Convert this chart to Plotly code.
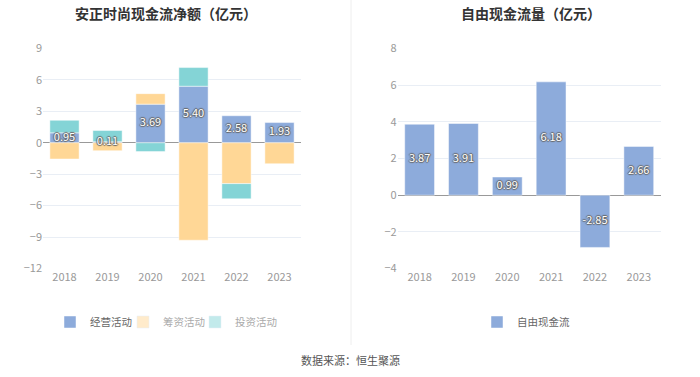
import plotly.graph_objects as go

years = ["2018", "2019", "2020", "2021", "2022", "2023"]
operating = [0.95, 0.11, 3.69, 5.40, 2.58, 1.93]
financing = [-1.55, -0.75, 1.00, -9.30, -3.90, -2.00]
investing = [1.20, 1.06, -0.84, 1.78, -1.45, None]
fcf = [3.87, 3.91, 0.99, 6.18, -2.85, 2.66]

left_title = "安正时尚现金流净额（亿元）"
right_title = "自由现金流量（亿元）"
source = "数据来源：恒生聚源"

BLUE = "#8DABDB"
ORANGE = "#FFD796"
TEAL = "#84D4D6"
FONT = "Noto Sans CJK SC"

W, H = 700, 377


def px(x):
    return x / W


def py(y):
    return 1 - y / H


shadow = "-1px 0 1px #666, 1px 0 1px #666, 0 -1px 1px #666, 0 1px 1px #666"
label_font = dict(color="white", size=11, family=FONT, shadow=shadow)

fig = go.Figure()

line = dict(color="rgba(255,255,255,0.8)", width=0.6)

fig.add_trace(go.Bar(x=years, y=operating, name="经营活动", marker=dict(color=BLUE, line=line),
                     xaxis="x", yaxis="y", legend="legend", showlegend=True))
fig.add_trace(go.Bar(x=years, y=financing, name="筹资活动", marker=dict(color=ORANGE, line=line),
                     xaxis="x", yaxis="y", showlegend=False))
fig.add_trace(go.Bar(x=years, y=investing, name="投资活动", marker=dict(color=TEAL, line=line),
                     xaxis="x", yaxis="y", showlegend=False))
# legend entries (lighter look as in reference)
fig.add_trace(go.Bar(x=[None], y=[None], name="<span style='color:#aaa'>筹资活动</span>",
                     marker=dict(color="#FFEBCB"), xaxis="x", yaxis="y", legend="legend3"))
fig.add_trace(go.Bar(x=[None], y=[None], name="<span style='color:#aaa'>投资活动</span>",
                     marker=dict(color="#C2EAEB"), xaxis="x", yaxis="y", legend="legend4"))
# value labels centred on the operating bars
fig.add_trace(go.Scatter(x=years, y=[v / 2 for v in operating], mode="text",
                         text=[f"{v:.2f}" for v in operating], textposition="middle center",
                         textfont=label_font, xaxis="x", yaxis="y", showlegend=False,
                         hoverinfo="skip"))

fig.add_trace(go.Bar(x=years, y=fcf, name="自由现金流", marker=dict(color=BLUE, line=line),
                     xaxis="x2", yaxis="y2", legend="legend2", showlegend=True))
fig.add_trace(go.Scatter(x=years, y=[v / 2 for v in fcf], mode="text",
                         text=[f"{v:.2f}" for v in fcf], textposition="middle center",
                         textfont=label_font, xaxis="x2", yaxis="y2", showlegend=False,
                         hoverinfo="skip"))

ydom = [py(268.5), py(48.5)]
axis_common = dict(showline=False, ticks="", tickfont=dict(color="#999", size=11, family=FONT))


def leg(x_left):
    return dict(orientation="h", x=px(x_left), y=py(322), xanchor="left", yanchor="middle",
                font=dict(size=10.5, color="#666", family=FONT), itemwidth=30,
                bgcolor="rgba(0,0,0,0)")


fig.update_layout(
    width=W, height=H,
    margin=dict(l=0, r=0, t=0, b=0, autoexpand=False),
    paper_bgcolor="white", plot_bgcolor="white",
    barmode="relative", bargap=0.32,
    font=dict(family=FONT, color="#666", size=11),
    xaxis=dict(domain=[px(43), px(301)], anchor="y", showgrid=False, **axis_common),
    yaxis=dict(domain=ydom, anchor="x", range=[-12, 9], dtick=3, tick0=0,
               gridcolor="#E9EEF5", zeroline=True, zerolinecolor="#999", zerolinewidth=1,
               **axis_common),
    xaxis2=dict(domain=[px(397.7), px(660.7)], anchor="y2", showgrid=False, **axis_common),
    yaxis2=dict(domain=ydom, anchor="x2", range=[-4, 8], dtick=2, tick0=0,
                gridcolor="#E9EEF5", zeroline=True, zerolinecolor="#999", zerolinewidth=1,
                **axis_common),
    legend=leg(50),
    legend3=leg(123),
    legend4=leg(195),
    legend2=leg(477),
    annotations=[
        dict(text=f"<b>{left_title}</b>", x=px(166), y=py(13), xref="paper", yref="paper",
             showarrow=False, xanchor="center", yanchor="middle",
             font=dict(size=14, color="#333", family=FONT)),
        dict(text=f"<b>{right_title}</b>", x=px(531), y=py(13), xref="paper", yref="paper",
             showarrow=False, xanchor="center", yanchor="middle",
             font=dict(size=14, color="#333", family=FONT)),
        dict(text=source, x=px(350), y=py(360), xref="paper", yref="paper",
             showarrow=False, xanchor="center", yanchor="middle",
             font=dict(size=11, color="#555", family=FONT)),
    ],
    shapes=[dict(type="line", xref="paper", yref="paper", x0=px(351), x1=px(351),
                 y0=py(345), y1=1, line=dict(color="#EEEEEE", width=1))],
)

fig.write_html("out.html", config={"displayModeBar": False},
               post_script="document.body.style.margin='0';")
